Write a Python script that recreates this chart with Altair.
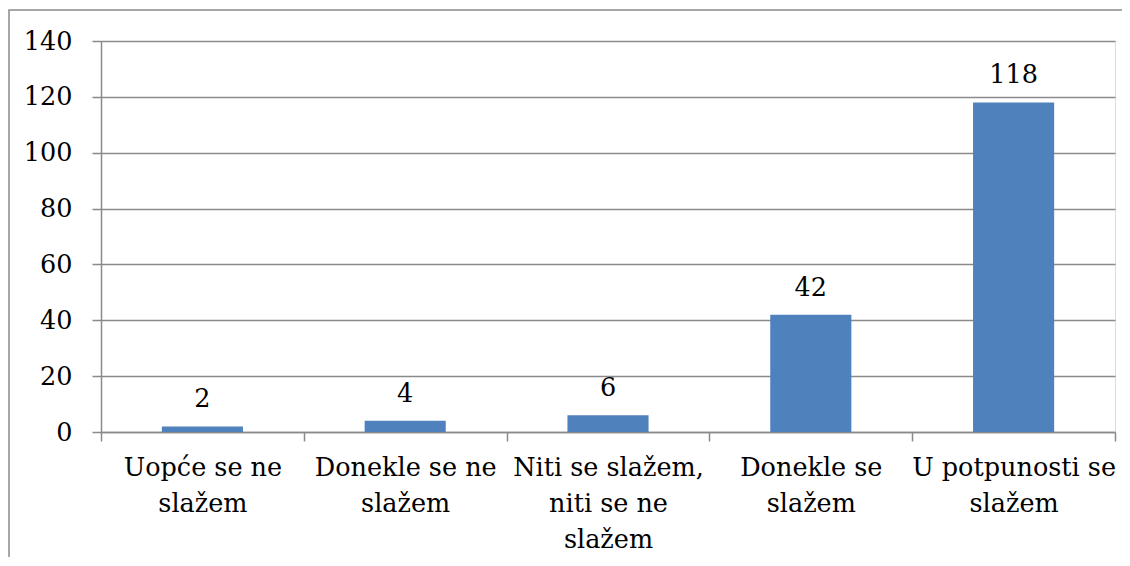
import altair as alt
import pandas as pd

categories = [
    "Uopće se ne\nslažem",
    "Donekle se ne\nslažem",
    "Niti se slažem,\nniti se ne\nslažem",
    "Donekle se\nslažem",
    "U potpunosti se\nslažem",
]
values = [2, 4, 6, 42, 118]
y_ticks = [0, 20, 40, 60, 80, 100, 120, 140]

df = pd.DataFrame({"cat": categories, "val": values})

FONT = "DejaVu Serif"
GRAY = "#8a8a8a"
W, H = 1014, 391
FS = 25.5

x_enc = alt.X(
    "cat:N",
    sort=categories,
    scale=alt.Scale(paddingInner=0, paddingOuter=0),
    axis=alt.Axis(
        title=None,
        labelAngle=0,
        tickBand="extent",
        labelExpr="split(datum.label, '\\n')",
        labelFont=FONT,
        labelFontSize=FS,
        labelLineHeight=36,
        labelColor="black",
        labelPadding=14,
        labelLimit=0,
        tickSize=9,
        tickColor=GRAY,
        tickWidth=1.5,
        domainColor=GRAY,
        domainWidth=1.5,
        grid=False,
    ),
)
y_enc = alt.Y(
    "val:Q",
    scale=alt.Scale(domain=[0, 140], nice=False),
    axis=alt.Axis(
        title=None,
        values=y_ticks,
        labelFont=FONT,
        labelFontSize=FS,
        labelColor="black",
        labelPadding=20,
        tickSize=9,
        tickColor=GRAY,
        tickWidth=1.5,
        domainColor=GRAY,
        domainWidth=1.5,
        gridColor=GRAY,
        gridWidth=1.5,
    ),
)

bars = alt.Chart(df).mark_bar(
    color="#4F81BD", width=alt.RelativeBandSize(0.4)
).encode(x=x_enc, y=y_enc)

labels = alt.Chart(df).mark_text(
    font=FONT, fontSize=FS, color="black", baseline="alphabetic", dy=-19
).encode(x=alt.X("cat:N", sort=categories), y="val:Q", text="val:Q")

frame = alt.Chart(pd.DataFrame({"a": [0]})).mark_rect(
    fill=None, stroke=GRAY, strokeWidth=1.5
).encode(
    x=alt.value(-92), x2=alt.value(1300), y=alt.value(-31), y2=alt.value(800)
)

chart = (
    alt.layer(frame, bars, labels)
    .properties(
        width=W,
        height=H,
        autosize=alt.AutoSizeParams(type="none"),
        padding={"left": 93, "top": 33, "right": 7, "bottom": 125},
    )
    .configure_view(stroke=None)
    .configure(background="white", font=FONT)
)

chart.save("out.html", embed_options={"renderer": "svg", "actions": False})
